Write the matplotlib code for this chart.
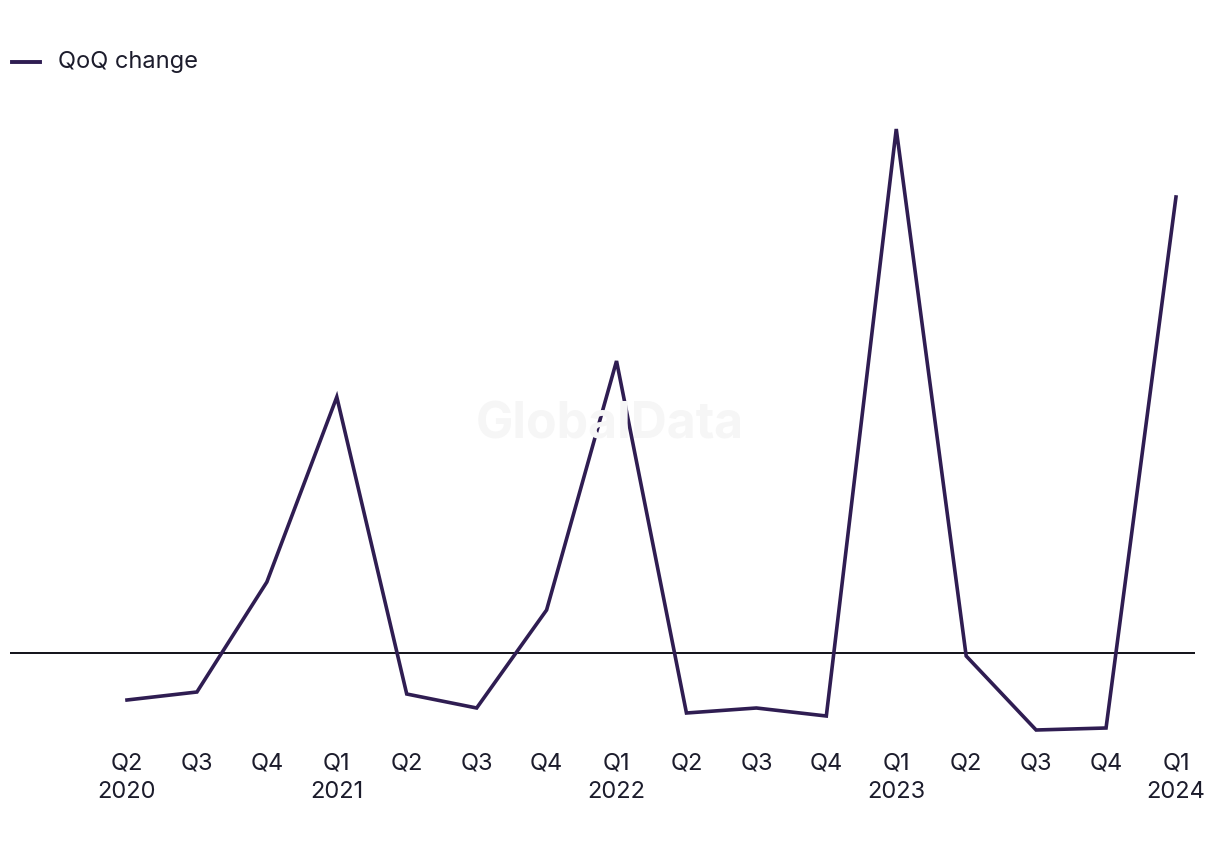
import numpy as np
import matplotlib.pyplot as plt

plt.rcParams['font.family'] = ['Inter', 'DejaVu Sans']

quarters = ["Q2\n2020", "Q3", "Q4", "Q1\n2021", "Q2", "Q3", "Q4", "Q1\n2022",
            "Q2", "Q3", "Q4", "Q1\n2023", "Q2", "Q3", "Q4", "Q1\n2024"]
qoq_change = [-2.35, -1.95, 3.55, 12.8, -2.05, -2.75, 2.15, 14.6,
              -3.0, -2.75, -3.15, 26.2, -0.15, -3.85, -3.75, 22.8]

line_col = "#2f1d52"
text_col = "#1c1c2c"

fig = plt.figure(figsize=(12.2, 8.5), dpi=100)
ax = fig.add_axes([10 / 1220, 110 / 850, 1185 / 1220, 640 / 850])

x = np.arange(len(quarters))
ax.plot(x, qoq_change, color=line_col, lw=2.6, solid_joinstyle='miter', zorder=3)
ax.axhline(0, color="#111118", lw=1.4, zorder=2)

ax.set_xlim(-1.673, 15.272)
ax.set_ylim(-4.35, 27.65)

ax.set_xticks(x)
ax.set_xticklabels(quarters, fontsize=17, color=text_col, linespacing=1.4)
ax.tick_params(axis='x', length=0, pad=9)
ax.set_yticks([])
for s in ax.spines.values():
    s.set_visible(False)

# watermark
fig.text(0.5, 1 - 425 / 850, "GlobalData", fontsize=36, fontweight='bold',
         color="#f6f6f6", ha='center', va='center', zorder=0)

# legend
fig.add_artist(plt.Line2D([12 / 1220, 40 / 1220], [1 - 62 / 850, 1 - 62 / 850],
                          color=line_col, lw=2.8, transform=fig.transFigure))
fig.text(58 / 1220, 1 - 62 / 850, "QoQ change", fontsize=17, color=text_col,
         ha='left', va='center')

fig.savefig("out.png", dpi=100)
